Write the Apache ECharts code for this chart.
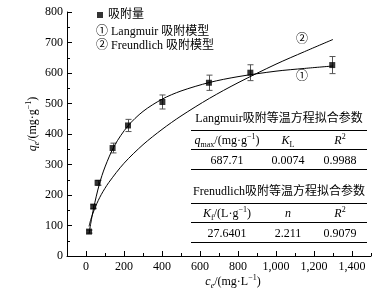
<!DOCTYPE html>
<html>
<head>
<meta charset="utf-8">
<script src="https://cdn.jsdelivr.net/npm/echarts@6/dist/echarts.min.js"></script>
<style>
html, body { margin: 0; padding: 0; background: #fff; }
#view { width: 391px; height: 294px; }
</style>
</head>
<body>
<div id="view"></div>
<script>
// measured adsorption points: ce (mg/L), qe (mg/g), error bar half-height
var ce = [16, 38, 61, 140, 221, 402, 647, 865, 1296];
var qe = [80, 162, 240, 354, 428, 505, 568, 601, 626];
var qeErr = [5, 6, 8, 16, 20, 23, 25, 26, 28];

// curve (1) Langmuir
var langC = [16, 25, 40, 70, 100, 150, 220, 300, 400, 500, 650, 800, 1000, 1150, 1300];
var langQ = [73, 107, 157, 235, 292, 362, 426, 474, 514, 541, 569, 588, 606, 615, 623];

// curve (2) Freundlich
var frC = [16, 25, 50, 80, 120, 200, 300, 400, 500, 650, 800, 1000, 1150, 1300];
var frQ = [97, 119, 162, 201, 241, 304, 365, 415, 459, 517, 568, 629, 670, 710];

var xTicks = [0, 200, 400, 600, 800, 1000, 1200, 1400];

var legendText = ['吸附量', '① Langmuir 吸附模型', '② Freundlich 吸附模型'];

var langTitle = 'Langmuir吸附等温方程拟合参数';
var langHead = ['{i|q}{sub|max}/(mg·g{sup|−1})', '{i|K}{sub|L}', '{i|R}{sup|2}'];
var langVals = ['687.71', '0.0074', '0.9988'];

var frTitle = 'Frenudlich吸附等温方程拟合参数';
var frHead = ['{i|K}{sub|f}/(L·g{sup|−1})', '{i|n}', '{i|R}{sup|2}'];
var frVals = ['27.6401', '2.211', '0.9079'];

var FONT = '"Liberation Serif", "Noto Sans CJK SC", serif';

var rich = {
    i: { fontStyle: 'italic', fontSize: 12, fontFamily: FONT, lineHeight: 16 },
    sub: { fontSize: 8, fontFamily: FONT, lineHeight: 8, verticalAlign: 'bottom' },
    subi: { fontStyle: 'italic', fontSize: 8, fontFamily: FONT, lineHeight: 8, verticalAlign: 'bottom' },
    sup: { fontSize: 8, fontFamily: FONT, lineHeight: 8, verticalAlign: 'top' }
};

function text(x, y, str, align, rotation) {
    return {
        type: 'text', x: x, y: y, rotation: rotation || 0, z: 10,
        style: {
            text: str, fill: '#000', fontSize: 12, fontFamily: FONT, lineHeight: 16,
            align: align || 'center', verticalAlign: 'middle', rich: rich
        }
    };
}
function rule(y) {
    return {
        type: 'line', z: 10,
        shape: { x1: 191, y1: y + 0.5, x2: 367, y2: y + 0.5 },
        style: { stroke: '#000', lineWidth: 1 }
    };
}
var cols = [227, 288, 340];
function table(top, title, head, vals) {
    var out = [text(279, top, title), rule(top + 11), rule(top + 30), rule(top + 50)];
    head.forEach(function (h, i) { out.push(text(cols[i], top + 22, h)); });
    vals.forEach(function (v, i) { out.push(text(cols[i], top + 42, v)); });
    return out;
}

var graphic = [
    text(96, 32, legendText[1], 'left'),
    text(96, 46, legendText[2], 'left'),
    text(302, 77, '①'),
    text(302, 40, '②'),
    text(33, 124, '{i|q}{subi|e}/(mg·g{sup|−1})', 'center', Math.PI / 2),
    text(233, 282, '{i|c}{subi|e}/(mg·L{sup|−1})')
].concat(table(119, langTitle, langHead, langVals))
 .concat(table(192, frTitle, frHead, frVals));

var axisColor = { color: '#000', width: 1 };

option = {
    animation: false,
    backgroundColor: '#fff',
    legend: {
        data: [legendText[0]],
        left: 92,
        top: 4,
        icon: 'rect',
        itemWidth: 6,
        itemHeight: 6,
        selectedMode: false,
        textStyle: { color: '#000', fontSize: 12, fontFamily: FONT }
    },
    grid: [
        { left: 67, right: 20, top: 12, bottom: 38 },
        // helper grid carrying the major x ticks (0..1400)
        { left: 86, right: 39, top: 12, bottom: 38 }
    ],
    xAxis: [{
        type: 'value',
        gridIndex: 0,
        position: 'bottom',
        min: -100,
        max: 1500,
        interval: 100,
        axisLine: { onZero: false, lineStyle: axisColor },
        axisTick: { inside: true, length: 3, lineStyle: axisColor },
        axisLabel: { show: false },
        splitLine: { show: false }
    }, {
        type: 'value',
        gridIndex: 1,
        position: 'bottom',
        min: xTicks[0],
        max: xTicks[xTicks.length - 1],
        interval: 200,
        axisLine: { show: false },
        axisTick: { inside: true, length: 5, lineStyle: axisColor },
        axisLabel: { color: '#000', fontSize: 12, fontFamily: FONT, margin: 5 },
        splitLine: { show: false }
    }],
    yAxis: [{
        type: 'value',
        gridIndex: 0,
        min: 0,
        max: 800,
        interval: 100,
        axisLine: { show: true, onZero: false, lineStyle: axisColor },
        axisTick: { show: true, inside: true, length: 5, lineStyle: axisColor },
        minorTick: { show: true, splitNumber: 2, length: 3, lineStyle: axisColor },
        axisLabel: { color: '#000', fontSize: 12, fontFamily: FONT, margin: 4 },
        splitLine: { show: false }
    }, {
        type: 'value',
        gridIndex: 1,
        min: 0,
        max: 800,
        show: false
    }],
    graphic: graphic,
    series: [{
        name: 'Langmuir',
        type: 'line',
        smooth: 0.3,
        showSymbol: false,
        color: '#000',
        lineStyle: { width: 1, color: '#000' },
        data: langC.map(function (c, i) { return [c, langQ[i]]; })
    }, {
        name: 'Freundlich',
        type: 'line',
        smooth: 0.3,
        showSymbol: false,
        color: '#000',
        lineStyle: { width: 1, color: '#000' },
        data: frC.map(function (c, i) { return [c, frQ[i]]; })
    }, {
        name: 'err',
        type: 'custom',
        z: 3,
        renderItem: function (params, api) {
            var x = api.value(0);
            var lo = api.coord([x, api.value(1) - api.value(2)]);
            var hi = api.coord([x, api.value(1) + api.value(2)]);
            var st = { stroke: '#555', lineWidth: 1 };
            var px = Math.round(lo[0]) + 0.5;
            return {
                type: 'group',
                children: [
                    { type: 'line', shape: { x1: px, y1: lo[1], x2: px, y2: hi[1] }, style: st },
                    { type: 'line', shape: { x1: px - 3, y1: lo[1], x2: px + 3, y2: lo[1] }, style: st },
                    { type: 'line', shape: { x1: px - 3, y1: hi[1], x2: px + 3, y2: hi[1] }, style: st }
                ]
            };
        },
        data: ce.map(function (c, i) { return [c, qe[i], qeErr[i]]; })
    }, {
        name: legendText[0],
        type: 'scatter',
        symbol: 'rect',
        symbolSize: 6,
        z: 5,
        itemStyle: { color: '#000' },
        data: ce.map(function (c, i) { return [c, qe[i]]; })
    }]
};

echarts.init(document.getElementById('view')).setOption(option);
</script>
</body>
</html>
